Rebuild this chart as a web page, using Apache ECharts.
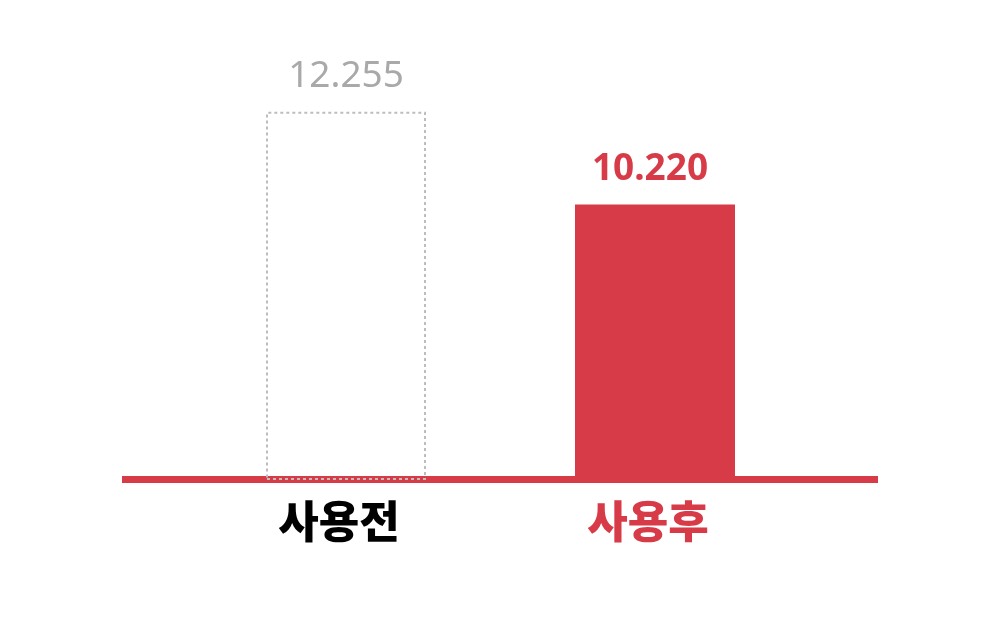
<!DOCTYPE html>
<html>
<head>
<meta charset="utf-8">
<script src="https://cdn.jsdelivr.net/npm/echarts@6/dist/echarts.min.js"></script>
<style>
html,body{margin:0;padding:0;background:#fff;}
#chart{width:1000px;height:620px;}
</style>
</head>
<body>
<div id="chart"></div>
<script>
const categories = ['사용전', '사용후'];
const values = [12.255, 10.220];
const labelColors = ['#000000', '#d83b48'];

const RED = '#d83b48';
const chart = echarts.init(document.getElementById('chart'));
const seriesData = values.map((v, i) => i === 0 ? {
  value: v,
  itemStyle: { color: 'rgba(255,255,255,0)', borderColor: '#bdbdbd', borderWidth: 2, borderType: [3, 3] },
  label: { color: '#a9a9a9', fontWeight: 'normal', fontSize: 37 }
} : {
  value: v,
  itemStyle: { color: RED },
  label: { color: RED, fontWeight: 'bold', fontSize: 37, padding: [0, 10, 0, 0] }
});

chart.setOption({
  animation: false,
  grid: [
    { left: 191.5, right: 190.5, top: 23, bottom: 141 },
    { left: 122, right: 122, top: 23, bottom: 141 }
  ],
  xAxis: [
    {
      type: 'category', gridIndex: 0, data: categories,
      axisLine: { show: false }, axisTick: { show: false },
      axisLabel: {
        margin: 20,
        fontSize: 44, fontWeight: 900,
        fontFamily: 'Noto Sans CJK KR',
        padding: [0, 14, 0, 0],
        color: function (val, idx) { return labelColors[idx]; }
      }
    },
    {
      type: 'category', gridIndex: 1, data: [''],
      axisLine: { show: true, lineStyle: { color: RED, width: 7, cap: 'butt' } },
      axisTick: { show: false }, axisLabel: { show: false }
    }
  ],
  yAxis: [
    { type: 'value', gridIndex: 0, min: 4.2, max: 14.2, show: false, splitLine: { show: false } },
    { type: 'value', gridIndex: 1, min: 0, max: 1, show: false, splitLine: { show: false } }
  ],
  series: [{
    type: 'bar', xAxisIndex: 0, yAxisIndex: 0,
    barWidth: 160,
    data: seriesData,
    z: 1,
    label: {
      show: true, position: 'top', distance: 17,
      fontFamily: 'Noto Sans',
      formatter: p => p.value.toFixed(3)
    }
  }]
});
</script>
</body>
</html>
